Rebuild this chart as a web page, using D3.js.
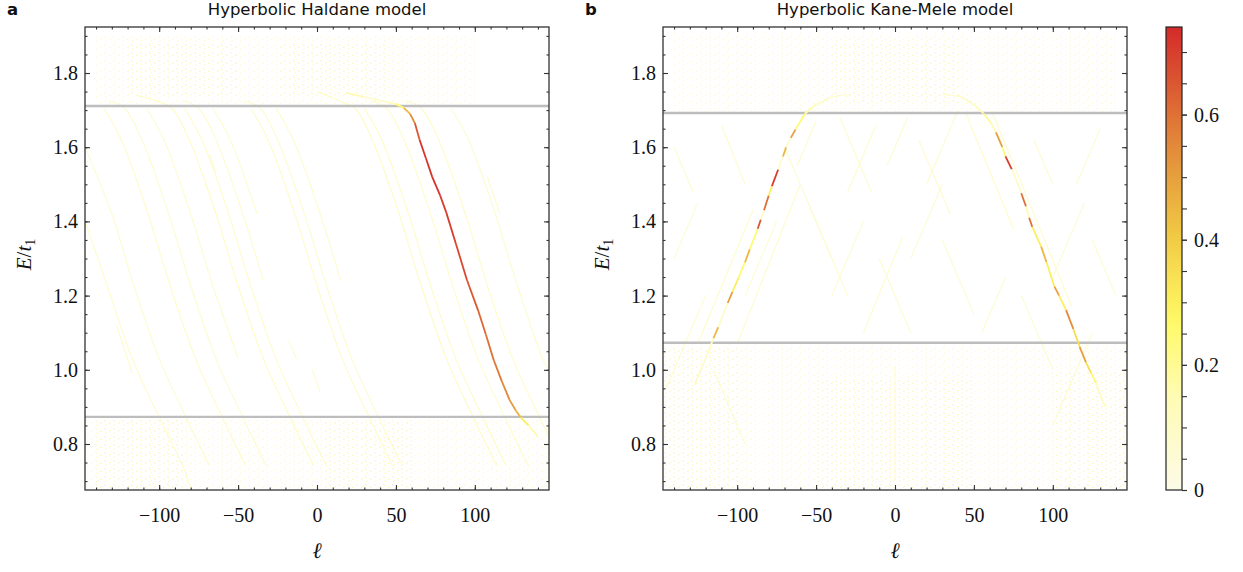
<!DOCTYPE html>
<html>
<head>
<meta charset="utf-8">
<script src="https://cdn.jsdelivr.net/npm/d3@7"></script>
<style>
  body { margin: 0; background: #fff; }
  svg { display: block; }
</style>
</head>
<body>
<div id="graph"></div>
<script>
// ---- data ----
var titles = ["Hyperbolic Haldane model", "Hyperbolic Kane-Mele model"];
var letters = ["a", "b"];
var ellTicks = [-100, -50, 0, 50, 100];
var energyTicks = [0.8, 1.0, 1.2, 1.4, 1.6, 1.8];
var cbarTicks = [0, 0.2, 0.4, 0.6];

// bulk gap edges (grey lines)
var hhGap = [1.711, 0.873];
var kmGap = [1.692, 1.073];

// Haldane: chiral edge branch (l, E, weight)
var hhEdgeL = [18, 30, 42, 50, 55, 59, 62, 65, 69, 73, 78, 82, 88, 95, 102, 107, 112, 117, 122, 126, 129, 134, 140];
var hhEdgeE = [1.747, 1.735, 1.724, 1.716, 1.706, 1.69, 1.665, 1.62, 1.57, 1.52, 1.47, 1.423, 1.34, 1.242, 1.161, 1.095, 1.026, 0.97, 0.919, 0.89, 0.872, 0.85, 0.82];
var hhEdgeV = [0.14, 0.07, 0.1, 0.25, 0.45, 0.55, 0.65, 0.72, 0.72, 0.72, 0.7, 0.7, 0.68, 0.65, 0.62, 0.6, 0.58, 0.55, 0.52, 0.45, 0.3, 0.15, 0.12];

// Haldane: weak bulk/edge traces
var hhFaint = [
  [[-147, 1.40], [-134, 1.24], [-117, 1.03], [-100, 0.872], [-85, 0.74], [-80, 0.68]],
  [[-147, 1.60], [-130, 1.42], [-117, 1.24], [-100, 1.03], [-83, 0.872], [-68, 0.74]],
  [[-135, 1.705], [-124, 1.62], [-107, 1.42], [-94, 1.24], [-77, 1.03], [-60, 0.872], [-45, 0.74]],
  [[-132, 1.725], [-122, 1.705], [-111, 1.62], [-94, 1.42], [-81, 1.24], [-64, 1.03], [-47, 0.872], [-32, 0.74]],
  [[-108, 1.705], [-97, 1.62], [-80, 1.42], [-67, 1.24], [-50, 1.03]],
  [[-115, 1.74], [-102, 1.725], [-92, 1.705], [-81, 1.62], [-64, 1.42], [-51, 1.24], [-34, 1.03], [-17, 0.872], [-2, 0.74]],
  [[-84, 1.705], [-73, 1.62], [-56, 1.42], [-43, 1.24], [-26, 1.03], [-9, 0.872], [6, 0.74]],
  [[-85, 1.725], [-75, 1.705], [-64, 1.62], [-47, 1.42], [-34, 1.24]],
  [[-66, 1.705], [-55, 1.62], [-38, 1.42]],
  [[-42, 1.705], [-31, 1.62], [-14, 1.42], [-1, 1.24], [16, 1.03], [33, 0.872], [48, 0.74]],
  [[-46, 1.725], [-36, 1.705], [-25, 1.62], [-8, 1.42], [5, 1.24], [22, 1.03], [39, 0.872], [54, 0.74]],
  [[-26, 1.705], [-15, 1.62], [2, 1.42], [15, 1.24]],
  [[0, 1.75], [14, 1.725], [24, 1.705], [35, 1.62], [52, 1.42], [65, 1.24], [82, 1.03], [99, 0.872], [114, 0.74]],
  [[30, 1.705], [41, 1.62], [58, 1.42], [71, 1.24], [88, 1.03], [105, 0.872], [120, 0.74]],
  [[34, 1.725], [44, 1.705], [55, 1.62], [72, 1.42], [85, 1.24], [102, 1.03], [119, 0.872], [134, 0.74]],
  [[56, 1.725], [66, 1.705], [77, 1.62], [94, 1.42], [107, 1.24], [124, 1.03], [141, 0.872], [147, 0.82]],
  [[85, 1.705], [96, 1.62], [113, 1.42], [126, 1.24], [143, 1.03], [147, 1.0]],
  [[-127, 1.12], [-117, 0.99]],
  [[-68, 1.58], [-64, 1.53]],
  [[-18, 1.08], [-13, 1.03]],
  [[-3, 1.00], [2, 0.94]],
  [[108, 1.52], [116, 1.42]]
];
var hhFaintV = [0.08, 0.07, 0.08, 0.07, 0.07, 0.1, 0.08, 0.07, 0.07, 0.08, 0.07, 0.07, 0.1, 0.09, 0.08, 0.09, 0.07, 0.07, 0.07, 0.07, 0.07, 0.07];

// Haldane: areas of dense bulk states [l1, l2, E1, E2]
var hhBulk = [[-140, 100, 1.716, 1.905], [-25, 45, 1.74, 1.885], [-120, -50, 1.74, 1.89],
              [-147, 147, 0.68, 0.868], [-140, -85, 0.68, 0.868], [5, 60, 0.68, 0.86]];

// Kane-Mele: helical edge branches (l, E, weight)
var kmLeftL = [-127, -120, -115, -112, -106, -103, -99, -95, -92, -87, -85, -83, -80, -78, -74, -71, -69, -66, -63, -57, -50, -42];
var kmLeftE = [0.96, 1.03, 1.085, 1.115, 1.18, 1.21, 1.25, 1.29, 1.325, 1.38, 1.405, 1.43, 1.47, 1.495, 1.54, 1.575, 1.60, 1.625, 1.648, 1.691, 1.715, 1.732];
var kmLeftV = [0.08, 0.1, 0.45, 0.08, 0.5, 0.3, 0.25, 0.45, 0.25, 0.65, 0.1, 0.6, 0.3, 0.7, 0.08, 0.45, 0.08, 0.5, 0.25, 0.15, 0.08, 0.07];
var kmRightL = [40, 50, 56, 61, 64, 68, 70, 74, 78, 80, 83, 85, 87, 92.6, 96, 101, 104, 108.4, 113, 117, 121, 124.3, 127.4, 133];
var kmRightE = [1.74, 1.715, 1.691, 1.664, 1.64, 1.60, 1.575, 1.54, 1.50, 1.476, 1.44, 1.41, 1.385, 1.332, 1.29, 1.224, 1.20, 1.161, 1.11, 1.062, 1.02, 0.991, 0.964, 0.90];
var kmRightV = [0.08, 0.12, 0.2, 0.15, 0.5, 0.25, 0.7, 0.08, 0.08, 0.6, 0.15, 0.6, 0.3, 0.45, 0.3, 0.5, 0.3, 0.55, 0.35, 0.5, 0.35, 0.25, 0.1, 0.07];

// Kane-Mele: weak traces of both chiralities
var kmFaint = [
  [[-125, 1.07], [-90, 1.43]], [[-100, 1.07], [-60, 1.50]], [[-95, 1.20], [-75, 1.40]],
  [[-40, 1.20], [-20, 1.40]], [[-20, 1.10], [5, 1.36]], [[10, 1.30], [30, 1.50]],
  [[20, 1.50], [40, 1.70]], [[-30, 1.48], [-12, 1.66]], [[55, 1.10], [70, 1.25]],
  [[100, 1.25], [120, 1.45]], [[115, 1.50], [130, 1.65]], [[-140, 1.30], [-125, 1.45]],
  [[-140, 1.60], [-128, 1.48]], [[-110, 1.66], [-95, 1.50]], [[-70, 1.60], [-40, 1.30]],
  [[-55, 1.45], [-30, 1.20]], [[-35, 1.68], [-15, 1.48]], [[-10, 1.30], [10, 1.10]],
  [[15, 1.62], [35, 1.42]], [[30, 1.35], [50, 1.15]], [[45, 1.69], [75, 1.38]],
  [[62, 1.69], [112, 1.17]], [[80, 1.20], [100, 1.00]], [[125, 1.35], [140, 1.20]],
  [[-62, 1.55], [-50, 1.67]], [[-5, 1.55], [8, 1.68]], [[88, 1.62], [100, 1.50]],
  [[-115, 1.00], [-95, 0.80]], [[-145, 0.95], [-120, 1.20]], [[100, 0.85], [125, 1.10]],
  [[0, 1.01], [0, 0.70]], [[-57, 1.691], [-50, 1.715], [-40, 1.735], [-28, 1.742]],
  [[30, 1.742], [42, 1.735], [50, 1.715], [56, 1.691]]
];
var kmFaintV = [0.09, 0.08, 0.07, 0.07, 0.07, 0.07, 0.07, 0.07, 0.07, 0.07, 0.07, 0.07,
                0.07, 0.07, 0.07, 0.07, 0.07, 0.07, 0.07, 0.07, 0.08, 0.09, 0.07, 0.07,
                0.07, 0.07, 0.07, 0.07, 0.08, 0.07, 0.08, 0.09, 0.09];

var kmBulk = [[-140, 140, 1.697, 1.91], [-40, 40, 1.72, 1.89],
              [-147, 147, 0.68, 1.068], [-50, 50, 0.68, 0.98], [-147, -100, 0.68, 1.06], [100, 147, 0.68, 1.0]];

// ---- drawing ----
var W = 464, H = 463, TOP = 27;
var panelLeft = [85, 663];

var svg = d3.select("#graph").append("svg")
    .attr("width", 1243).attr("height", 572);

var x = d3.scaleLinear().domain([-147, 147]).range([0, W]);
var y = d3.scaleLinear().domain([0.676, 1.924]).range([H, 0]);
var colour = d3.scaleLinear()
    .domain([0, 0.15, 0.27, 0.4, 0.55, 0.74])
    .range(["#fcfbe6", "#fffbb4", "#fffa66", "#f2cc45", "#e28a3a", "#d42a2a"])
    .clamp(true);

var defs = svg.append("defs");
var pat = defs.append("pattern").attr("id", "speck")
    .attr("patternUnits", "userSpaceOnUse").attr("width", 9).attr("height", 8);
pat.append("path").attr("d", "M1,1l2,2M6,5l2,-2M2,7l1.5,-1.5")
    .attr("stroke", "#fff0a0").attr("stroke-width", 0.9).attr("fill", "none");

var serif = "'Liberation Serif', 'Times New Roman', serif";
var sans = "'DejaVu Sans', sans-serif";

var panels = [
  {gap: hhGap, bulk: hhBulk, faint: hhFaint, faintV: hhFaintV,
   edges: [[hhEdgeL, hhEdgeE, hhEdgeV]]},
  {gap: kmGap, bulk: kmBulk, faint: kmFaint, faintV: kmFaintV,
   edges: [[kmLeftL, kmLeftE, kmLeftV], [kmRightL, kmRightE, kmRightV]]}
];

var line = d3.line()
    .x(function (d) { return x(d[0]); })
    .y(function (d) { return y(d[1]); })
    .curve(d3.curveCatmullRom);

panels.forEach(function (p, i) {
  var g = svg.append("g").attr("transform", "translate(" + panelLeft[i] + "," + TOP + ")");

  defs.append("clipPath").attr("id", "clip" + i)
    .append("rect").attr("width", W).attr("height", H);
  var plot = g.append("g").attr("clip-path", "url(#clip" + i + ")");

  plot.selectAll("rect.bulk").data(p.bulk).enter().append("rect")
    .attr("x", function (d) { return x(d[0]); })
    .attr("y", function (d) { return y(d[3]); })
    .attr("width", function (d) { return x(d[1]) - x(d[0]); })
    .attr("height", function (d) { return y(d[2]) - y(d[3]); })
    .attr("fill", "url(#speck)").attr("opacity", 0.55);

  plot.selectAll("path.faint").data(p.faint).enter().append("path")
    .attr("d", line)
    .attr("fill", "none")
    .attr("stroke", function (d, k) { return colour(p.faintV[k]); })
    .attr("stroke-width", 1.1);

  p.gap.forEach(function (e) {
    plot.append("line")
      .attr("x1", 0).attr("x2", W)
      .attr("y1", y(e)).attr("y2", y(e))
      .attr("stroke", "#bdbdbd").attr("stroke-width", 2.4);
  });

  p.edges.forEach(function (br) {
    var segs = [];
    for (var k = 0; k < br[0].length - 1; k++) {
      segs.push({a: [br[0][k], br[1][k]], b: [br[0][k + 1], br[1][k + 1]], v: br[2][k]});
    }
    plot.selectAll(null).data(segs).enter().append("line")
      .attr("x1", function (d) { return x(d.a[0]); })
      .attr("y1", function (d) { return y(d.a[1]); })
      .attr("x2", function (d) { return x(d.b[0]); })
      .attr("y2", function (d) { return y(d.b[1]); })
      .attr("stroke", function (d) { return colour(d.v); })
      .attr("stroke-width", 1.8);
  });

  // axes, ticks inward on all sides
  var xMinor = d3.range(-140, 141, 10);
  var yMinor = d3.range(0.7, 1.92, 0.05);
  g.append("g").attr("transform", "translate(0," + H + ")")
    .call(d3.axisBottom(x).tickValues(xMinor).tickSize(-2.5).tickFormat(""));
  g.append("g").call(d3.axisTop(x).tickValues(xMinor).tickSize(-2.5).tickFormat(""));
  g.append("g").attr("transform", "translate(0," + H + ")")
    .call(d3.axisBottom(x).tickValues(ellTicks).tickSize(-5).tickPadding(18).tickFormat(d3.format("d")));
  g.append("g").call(d3.axisTop(x).tickValues(ellTicks).tickSize(-5).tickFormat(""));
  g.append("g").call(d3.axisLeft(y).tickValues(yMinor).tickSize(-2.5).tickFormat(""));
  g.append("g").attr("transform", "translate(" + W + ",0)")
    .call(d3.axisRight(y).tickValues(yMinor).tickSize(-2.5).tickFormat(""));
  g.append("g").call(d3.axisLeft(y).tickValues(energyTicks).tickSize(-5).tickPadding(7).tickFormat(d3.format(".1f")));
  g.append("g").attr("transform", "translate(" + W + ",0)")
    .call(d3.axisRight(y).tickValues(energyTicks).tickSize(-5).tickFormat(""));

  g.selectAll(".domain").remove();
  g.selectAll(".tick line").attr("stroke", "#333").attr("stroke-width", 1.1);
  g.selectAll(".tick text").attr("font-family", serif).attr("font-size", 20).attr("fill", "#111");

  g.append("rect").attr("width", W).attr("height", H)
    .attr("fill", "none").attr("stroke", "#333").attr("stroke-width", 1.3);

  // labels
  svg.append("text").attr("x", panelLeft[i] + W / 2).attr("y", 15)
    .attr("text-anchor", "middle").attr("font-family", sans).attr("font-size", 16.5)
    .attr("fill", "#111").text(titles[i]);
  svg.append("text").attr("x", panelLeft[i] - 78).attr("y", 15)
    .attr("font-family", sans).attr("font-size", 16.5).attr("font-weight", "bold")
    .attr("fill", "#111").text(letters[i]);

  var yl = svg.append("text")
    .attr("transform", "translate(" + (panelLeft[i] - 54) + "," + (TOP + H / 2 - 4) + ") rotate(-90)")
    .attr("text-anchor", "middle").attr("font-family", serif).attr("font-size", 21).attr("fill", "#111");
  yl.append("tspan").attr("font-style", "italic").text("E");
  yl.append("tspan").text("/");
  yl.append("tspan").attr("font-style", "italic").text("t");
  yl.append("tspan").attr("font-size", 14).attr("dy", 4).text("1");

  svg.append("text").attr("x", panelLeft[i] + W / 2).attr("y", 558)
    .attr("text-anchor", "middle").attr("font-family", serif).attr("font-size", 22)
    .attr("font-style", "italic").attr("fill", "#111").text("ℓ");
});

// colour bar
var cb = svg.append("g").attr("transform", "translate(1166," + TOP + ")");
var cy = d3.scaleLinear().domain([0, 0.74]).range([H, 0]);
var grad = defs.append("linearGradient").attr("id", "cgrad")
    .attr("x1", 0).attr("y1", 1).attr("x2", 0).attr("y2", 0);
d3.range(0, 1.0001, 0.05).forEach(function (t) {
  grad.append("stop").attr("offset", t).attr("stop-color", colour(t * 0.74));
});
cb.append("rect").attr("width", 16).attr("height", H)
  .attr("fill", "url(#cgrad)").attr("stroke", "#222").attr("stroke-width", 1.2);
cb.append("g").attr("transform", "translate(16,0)")
  .call(d3.axisRight(cy).tickValues(d3.range(0, 0.74, 0.05)).tickSize(5).tickFormat(""));
cb.append("g").attr("transform", "translate(16,0)")
  .call(d3.axisRight(cy).tickValues(cbarTicks).tickSize(5).tickPadding(7)
    .tickFormat(function (d) { return d === 0 ? "0" : d3.format(".1f")(d); }));
cb.selectAll(".domain").remove();
cb.selectAll(".tick line").attr("stroke", "#333").attr("stroke-width", 1.1);
cb.selectAll(".tick text").attr("font-family", serif).attr("font-size", 20).attr("fill", "#111");
</script>
</body>
</html>
